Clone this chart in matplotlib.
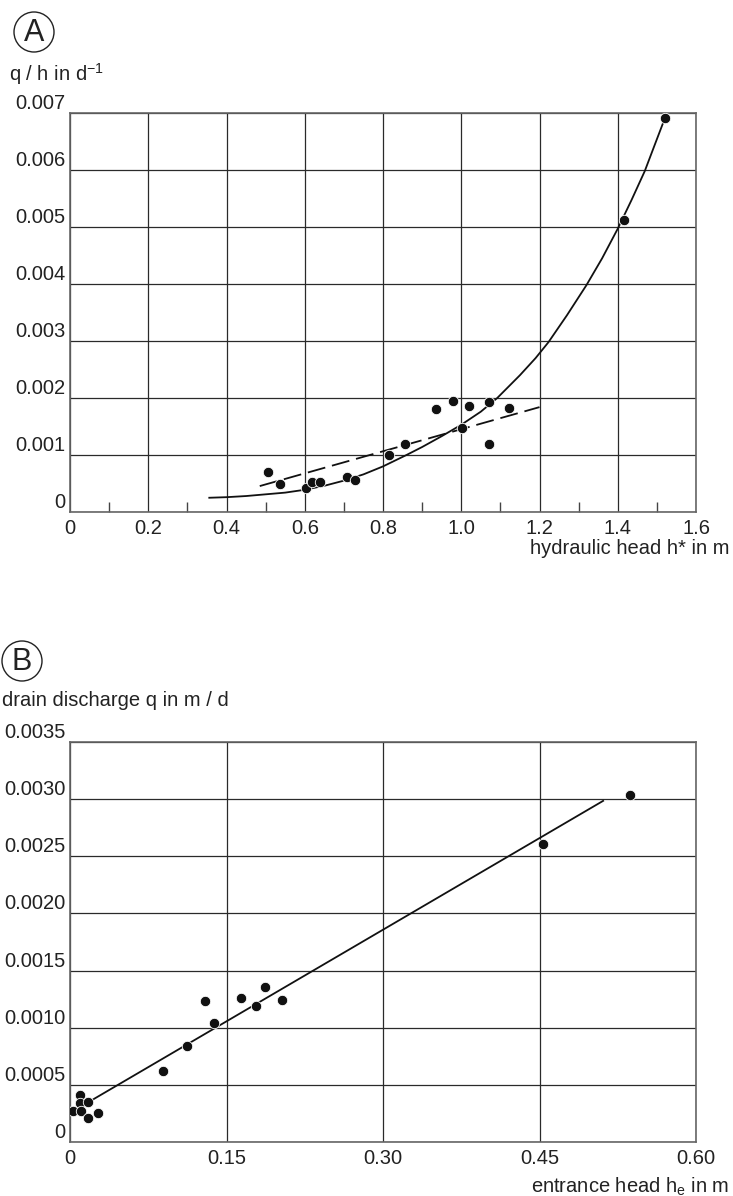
import numpy as np
import matplotlib
matplotlib.use("Agg")
from matplotlib import pyplot as plt
from matplotlib.patches import Ellipse

plt.rcParams['font.family'] = ['Liberation Sans', 'DejaVu Sans']
plt.rcParams['mathtext.fontset'] = 'custom'
plt.rcParams['mathtext.rm'] = 'Liberation Sans'
plt.rcParams['mathtext.it'] = 'Liberation Sans'
plt.rcParams['mathtext.default'] = 'regular'
plt.rcParams['lines.scale_dashes'] = False

FS = 14.5

# panel A : q/h against hydraulic head
a_h = [0.506, 0.536, 0.602, 0.619, 0.640, 0.707, 0.728, 0.816, 0.857, 0.935,
       0.979, 1.021, 1.071, 1.003, 1.071, 1.123, 1.415, 1.520]
a_q = [0.00070, 0.00049, 0.00042, 0.00053, 0.00052, 0.00062, 0.00057, 0.00100,
       0.00120, 0.00181, 0.00194, 0.00186, 0.00193, 0.00147, 0.00120, 0.00182,
       0.00512, 0.00691]
# solid curve
curve_h = [0.356, 0.40, 0.45, 0.50, 0.55, 0.60, 0.65, 0.70, 0.75, 0.80, 0.86,
           0.90, 0.95, 1.00, 1.05, 1.092, 1.15, 1.19, 1.223, 1.27, 1.32, 1.36,
           1.40, 1.435, 1.469, 1.495, 1.52]
curve_q = [0.00025, 0.00026, 0.00028, 0.00031, 0.00034, 0.00039, 0.00046,
           0.00055, 0.00066, 0.00080, 0.00100, 0.00114, 0.00133, 0.00153,
           0.00176, 0.00200, 0.00240, 0.00270, 0.00298, 0.00345, 0.00398,
           0.00445, 0.00497, 0.00547, 0.00598, 0.00645, 0.00690]
# dashed line ends
dash_h = [0.485, 1.200]
dash_q = [0.000455, 0.00184]

a_xticks = [0, 0.2, 0.4, 0.6, 0.8, 1.0, 1.2, 1.4, 1.6]
a_xlabels = ["0", "0.2", "0.4", "0.6", "0.8", "1.0", "1.2", "1.4", "1.6"]
a_yticks = [0, 0.001, 0.002, 0.003, 0.004, 0.005, 0.006, 0.007]
a_ylabels = ["0", "0.001", "0.002", "0.003", "0.004", "0.005", "0.006", "0.007"]

# panel B : drain discharge against entrance head
b_h = [0.0096, 0.0096, 0.0176, 0.0032, 0.0106, 0.0176, 0.0266, 0.0888, 0.1122,
       0.129, 0.138, 0.164, 0.178, 0.187, 0.2035, 0.4535, 0.537]
b_q = [0.000412, 0.000339, 0.000348, 0.000272, 0.000272, 0.000208, 0.000257,
       0.000617, 0.000842, 0.00123, 0.00104, 0.00126, 0.00119, 0.00136,
       0.00124, 0.00261, 0.003035]
line_h = [0.0224, 0.511]
line_q = [0.000374, 0.002985]

b_xticks = [0, 0.15, 0.30, 0.45, 0.60]
b_xlabels = ["0", "0.15", "0.30", "0.45", "0.60"]
b_yticks = [0, 0.0005, 0.0010, 0.0015, 0.0020, 0.0025, 0.0030, 0.0035]
b_ylabels = ["0", "0.0005", "0.0010", "0.0015", "0.0020", "0.0025", "0.0030", "0.0035"]

W, H = 733, 1196
fig = plt.figure(figsize=(W / 100, H / 100), dpi=100)
fig.patch.set_facecolor("white")


def px_axes(left, right, top, bottom):
    return fig.add_axes([left / W, 1 - bottom / H, (right - left) / W, (bottom - top) / H])


def style(ax, xt, xl, yt, yl):
    ax.set_xticks(xt)
    ax.set_xticklabels(xl)
    ax.set_yticks(yt)
    ax.set_yticklabels(yl)
    ax.grid(True, color="#2a2a2a", linewidth=0.9)
    ax.set_axisbelow(True)
    for s in ax.spines.values():
        s.set_color("#666666")
        s.set_linewidth(1.2)
    ax.tick_params(axis="both", which="major", length=0, labelsize=FS, colors="#222222")
    ax.tick_params(axis="x", pad=5)
    ax.tick_params(axis="y", pad=3)
    for t in ax.get_yticklabels():
        t.set_va("bottom")


def circ_letter(cx, cy, r, s):
    fig.add_artist(Ellipse((cx / W, 1 - cy / H), 2 * r / W, 2 * r / H,
                           transform=fig.transFigure, fc="none", ec="#222222", lw=1.0))
    fig.text(cx / W, 1 - (cy + 1) / H, s, ha="center", va="center", fontsize=22,
             color="#222222")


# ---- A ----
axA = px_axes(70, 696, 113, 512)
axA.set_xlim(0, 1.6)
axA.set_ylim(0, 0.007)
style(axA, a_xticks, a_xlabels, a_yticks, a_ylabels)
axA.set_xticks(np.arange(0.1, 1.6, 0.2), minor=True)
axA.tick_params(axis="x", which="minor", direction="in", length=7, width=1, color="#444444")
axA.plot(curve_h, curve_q, color="#111111", lw=1.3, zorder=3)
axA.plot(dash_h, dash_q, color="#111111", lw=1.3, dashes=(13, 5), zorder=3)
axA.plot(a_h, a_q, "o", color="#111111", ms=7.5, mec="white", mew=0.6, zorder=4)

fig.text(9 / W, 1 - 74 / H, "q / h in d$^{-1}$", fontsize=FS, va="center", color="#222222")
fig.text(729 / W, 1 - 539 / H, "hydraulic head h* in m", fontsize=FS, ha="right",
         va="top", color="#222222")
circ_letter(34, 32, 20, "A")

# ---- B ----
axB = px_axes(70, 696, 742, 1142)
axB.set_xlim(0, 0.6)
axB.set_ylim(0, 0.0035)
style(axB, b_xticks, b_xlabels, b_yticks, b_ylabels)
axB.plot(line_h, line_q, color="#111111", lw=1.3, zorder=3)
axB.plot(b_h, b_q, "o", color="#111111", ms=7.5, mec="white", mew=0.6, zorder=4)

fig.text(2 / W, 1 - 700 / H, "drain discharge q in m / d", fontsize=FS, va="center",
         color="#222222")
fig.text(729 / W, 1 - 1176 / H, "entrance head h$_{e}$ in m", fontsize=FS, ha="right",
         va="top", color="#222222")
circ_letter(22, 661, 20, "B")

fig.savefig("out.png", dpi=100, facecolor="white")
